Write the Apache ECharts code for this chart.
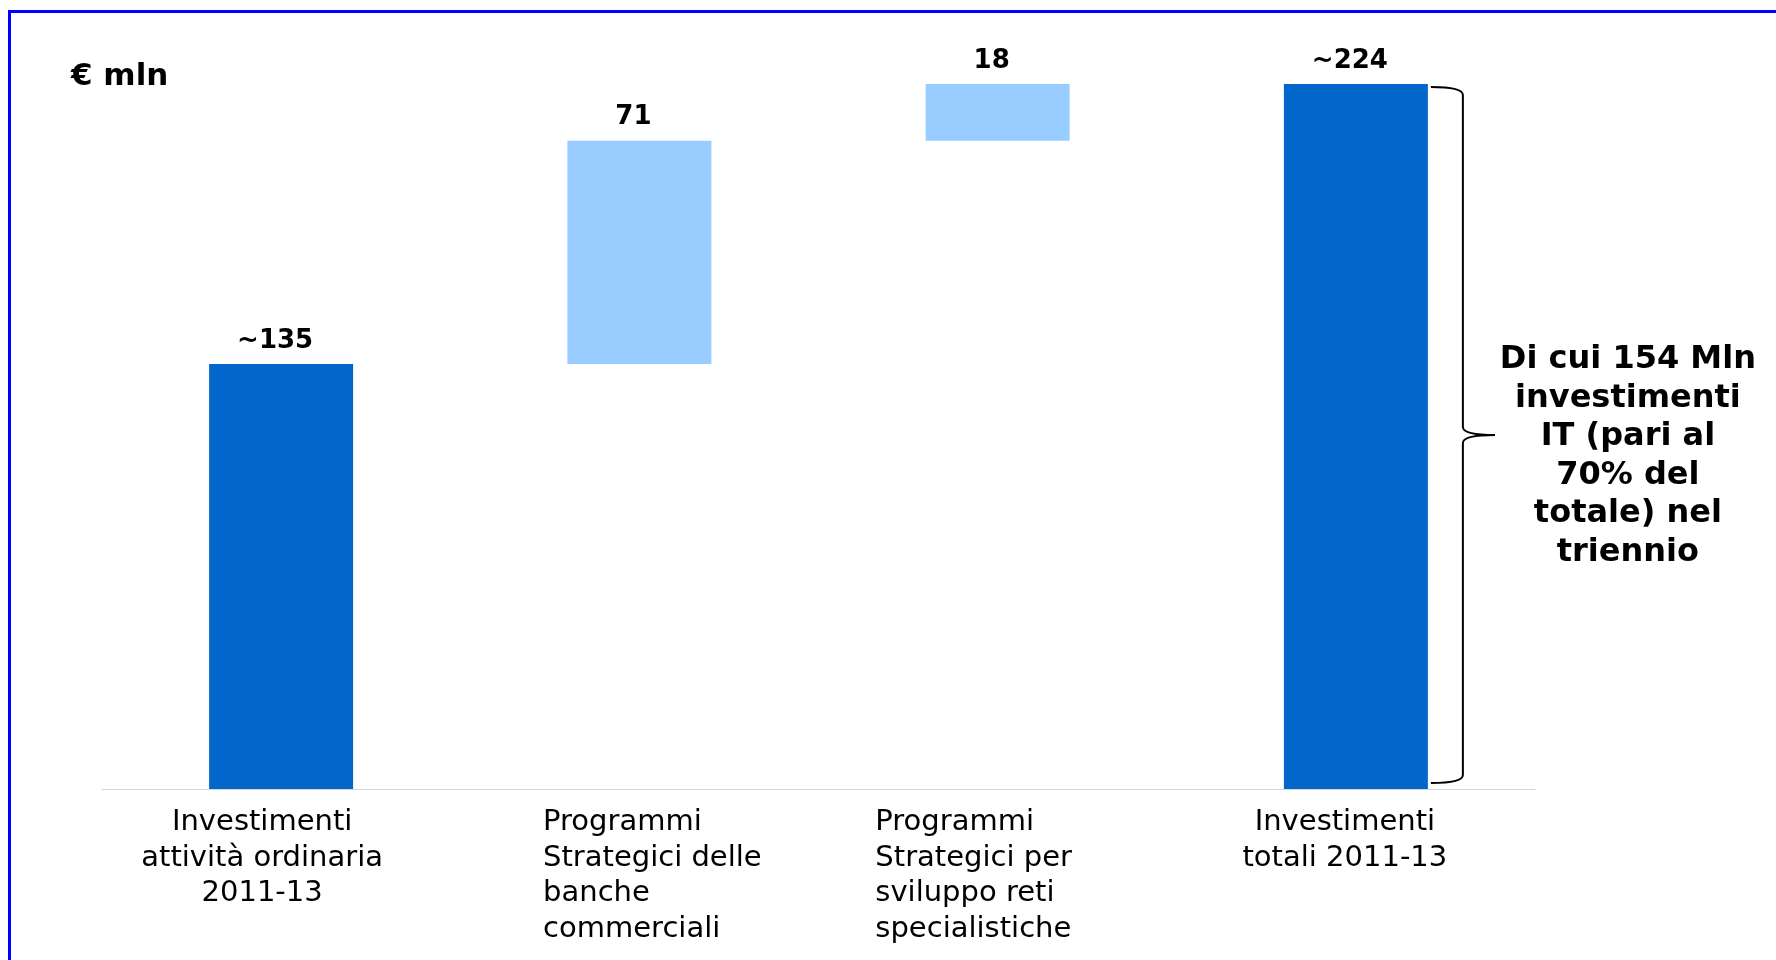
<!DOCTYPE html>
<html>
<head>
<meta charset="utf-8">
<script src="https://cdn.jsdelivr.net/npm/echarts@6/dist/echarts.min.js"></script>
<style>
  html, body { margin: 0; padding: 0; background: #ffffff; }
  #chart { width: 1776px; height: 960px; }
</style>
</head>
<body>
<div id="chart"></div>
<script>
// ---- data ----
const categories = [
  'Investimenti\nattività ordinaria\n2011-13',
  'Programmi\nStrategici delle\nbanche\ncommerciali',
  'Programmi\nStrategici per\nsviluppo reti\nspecialistiche',
  'Investimenti\ntotali 2011-13'
];
const values = [135, 71, 18, 224];
const approximate = [true, false, false, true];
const isTotal = [true, false, false, true];
const unitLabel = '€ mln';
const braceNote = 'Di cui 154 Mln\ninvestimenti\nIT (pari al\n70% del\ntotale) nel\ntriennio';

// ---- styling ----
const FONT = 'DejaVu Sans';
const DARK_BLUE = '#0366CA';
const LIGHT_BLUE = '#99CCFF';
const BAR_WIDTH = 144;
const leftAligned = [false, true, true, false];
const labelPadding = [[0, 38, 0, 0], [0, 0, 0, 26], [0, 48, 0, 0], [0, 22, 0, 0]];

// invisible offsets so each step starts where the previous one ends
const offsets = [];
let running = 0;
values.forEach((v, i) => {
  offsets.push(isTotal[i] ? 0 : running);
  running = isTotal[i] ? v : running + v;
});

const chart = echarts.init(document.getElementById('chart'), null, { renderer: 'canvas' });

const option = {
  backgroundColor: '#ffffff',
  animation: false,
  title: {
    text: unitLabel,
    left: 71,
    top: 61,
    padding: 0,
    textStyle: { fontFamily: FONT, fontSize: 31, fontWeight: 'bold', color: '#000000' }
  },
  grid: { left: 102, right: 241, top: 84, bottom: 171 },
  xAxis: {
    type: 'category',
    data: categories.map((c, i) => ({ value: c, textStyle: { padding: labelPadding[i] } })),
    axisLine: { show: true, lineStyle: { color: '#d6d6d6', width: 1 } },
    axisTick: { show: false },
    axisLabel: {
      interval: 0,
      margin: 16,
      fontFamily: FONT,
      fontSize: 29,
      lineHeight: 35.5,
      color: '#000000',
      formatter: (val, idx) => leftAligned[idx]
        ? val.split('\n').map(s => '{l|' + s + '}').join('\n')
        : val,
      rich: {
        l: { align: 'left', fontFamily: FONT, fontSize: 29, lineHeight: 35.5, color: '#000000' }
      }
    }
  },
  yAxis: {
    type: 'value',
    min: 0,
    max: 224,
    show: false,
    splitLine: { show: false }
  },
  series: [
    {
      name: 'base',
      type: 'bar',
      stack: 'wf',
      barWidth: BAR_WIDTH,
      silent: true,
      itemStyle: { color: 'rgba(0,0,0,0)' },
      data: offsets
    },
    {
      name: 'valore',
      type: 'bar',
      stack: 'wf',
      barWidth: BAR_WIDTH,
      data: values.map((v, i) => ({
        value: v,
        itemStyle: { color: isTotal[i] ? DARK_BLUE : LIGHT_BLUE }
      })),
      label: {
        show: true,
        position: 'top',
        distance: 10,
        offset: [-6, 0],
        fontFamily: FONT,
        fontSize: 26,
        fontWeight: 'bold',
        color: '#000000',
        formatter: p => (approximate[p.dataIndex] ? '~' : '') + p.value
      }
    }
  ]
};

chart.setOption(option);

// brace beside the total bar, with its note
const lastIdx = values.length - 1;
const topPt = chart.convertToPixel({ seriesIndex: 1 }, [lastIdx, values[lastIdx]]);
const basePt = chart.convertToPixel({ seriesIndex: 1 }, [lastIdx, 0]);
const x0 = topPt[0] + BAR_WIDTH / 2 + 3;
const x1 = x0 + 32;
const tipX = x0 + 64;
const yT = topPt[1] + 3;
const yB = basePt[1] - 6;
const yM = (yT + yB) / 2;
const c = 8;
const braceStyle = { fill: 'none', stroke: '#000000', lineWidth: 2 };

function curve(xa, ya, cx, cy, xb, yb) {
  return { type: 'bezierCurve', silent: true,
    shape: { x1: xa, y1: ya, cpx1: cx, cpy1: cy, x2: xb, y2: yb }, style: braceStyle };
}
function segment(xa, ya, xb, yb) {
  return { type: 'line', silent: true,
    shape: { x1: xa, y1: ya, x2: xb, y2: yb }, style: braceStyle };
}

chart.setOption({
  graphic: [
    {
      type: 'rect',
      silent: true,
      shape: { x: 9.5, y: 11.5, width: 3000, height: 3000 },
      style: { fill: 'none', stroke: '#0000ff', lineWidth: 3 },
      z: 100
    },
    curve(x0, yT, x1, yT, x1, yT + c),
    segment(x1, yT + c, x1, yM - c),
    curve(x1, yM - c, x1, yM, tipX, yM),
    curve(tipX, yM, x1, yM, x1, yM + c),
    segment(x1, yM + c, x1, yB - c),
    curve(x1, yB - c, x1, yB, x0, yB),
    {
      type: 'text',
      silent: true,
      x: tipX + 133,
      y: yM + 21,
      style: {
        text: braceNote,
        align: 'center',
        verticalAlign: 'middle',
        fontFamily: FONT,
        fontSize: 32,
        fontWeight: 'bold',
        lineHeight: 38.5,
        fill: '#000000'
      }
    }
  ]
});
</script>
</body>
</html>
